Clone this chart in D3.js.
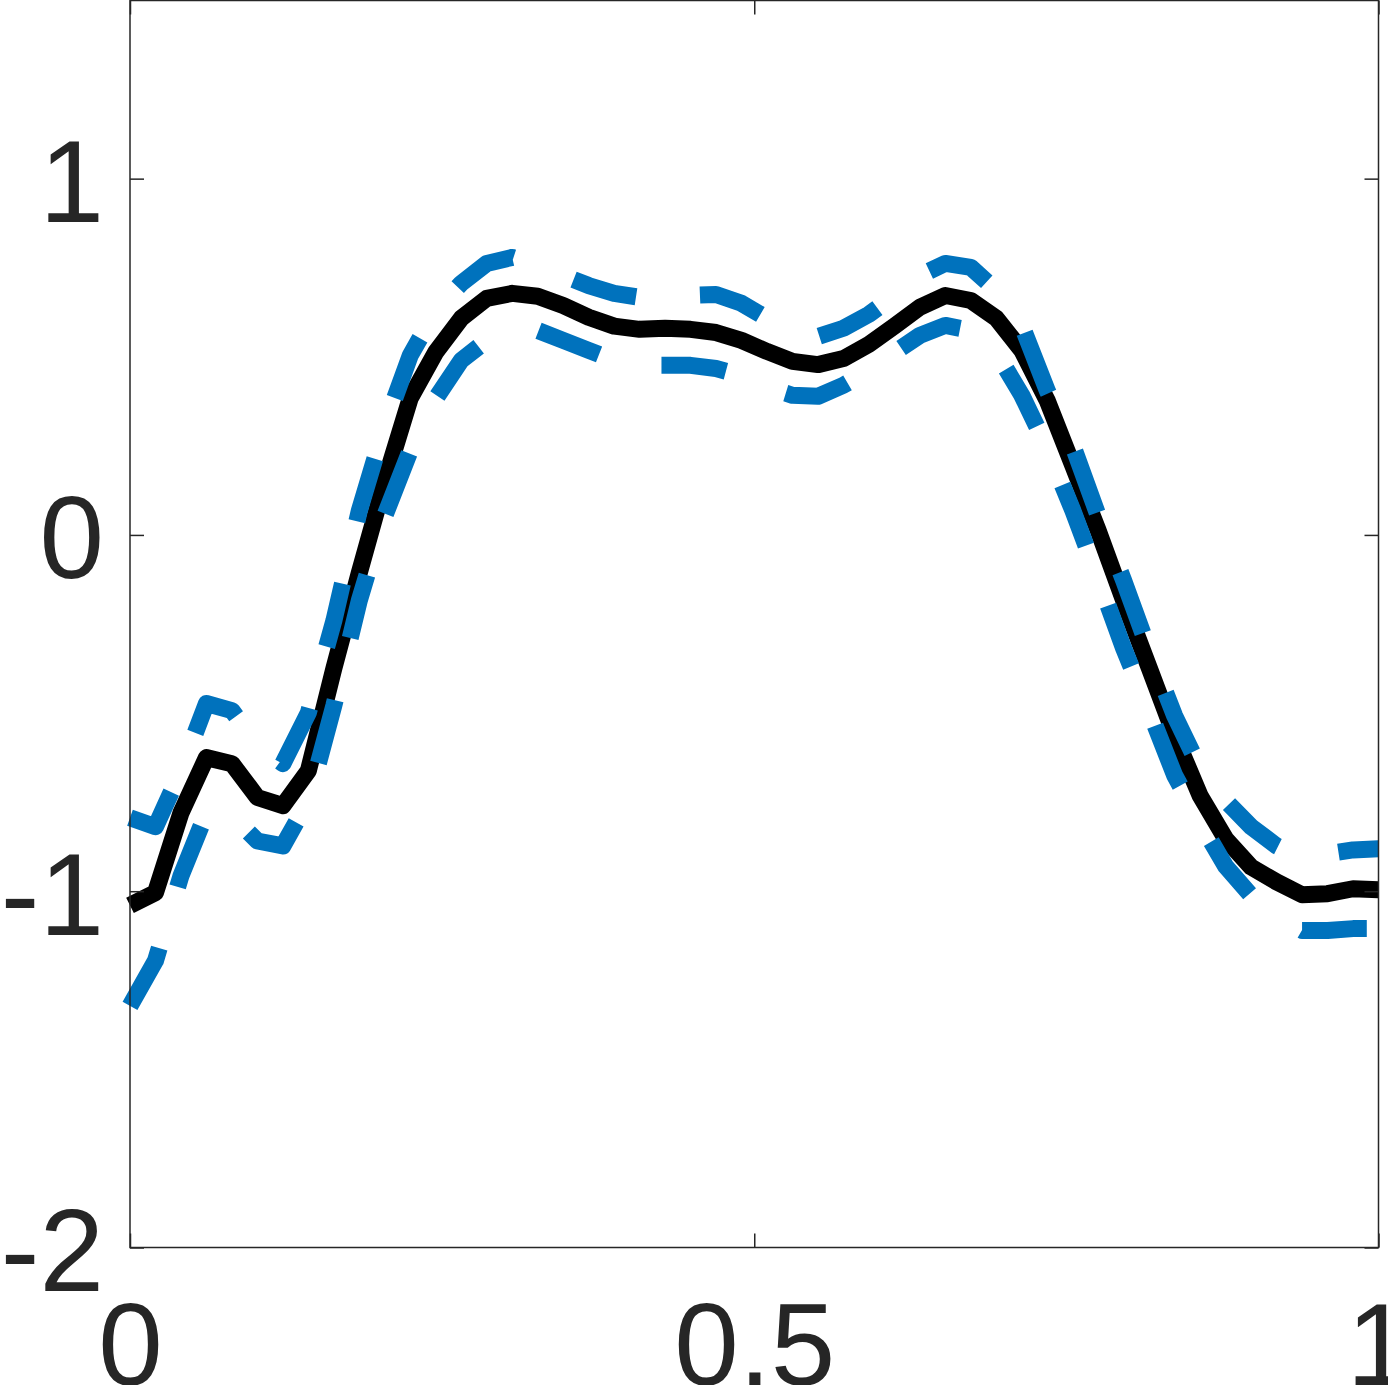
<!DOCTYPE html>
<html lang="en">
<head>
    <meta charset="UTF-8">
    <title>D3</title>
	<style>
		body { margin:0; background:#fff; }
		#CHART { display:block; }
		#CHART .tick text { font-family: "Liberation Sans", Arial, Helvetica, sans-serif; font-size:116px; fill:#262626; }
		#CHART .tick line { stroke:#262626; stroke-width:1.5px; }
	</style>
</head>
<body>
	<svg id="CHART" width="1388" height="1385"></svg>

    <script src="https://cdnjs.cloudflare.com/ajax/libs/d3/7.8.5/d3.min.js"></script>
    <script>
		/******** data ********/
		var X_TICKS = [0, 0.5, 1];
		var X_TICK_LABELS = ["0", "0.5", "1"];
		var Y_TICKS = [-2, -1, 0, 1];
		var Y_TICK_LABELS = ["-2", "-1", "0", "1"];

		// solid black curve
		var MEAN = [
			-1.040, -1.004, -0.780, -0.625, -0.642, -0.737, -0.760, -0.662, -0.375, -0.106,
			 0.150,  0.384,  0.513,  0.608,  0.664,  0.678,  0.670,  0.644,  0.611,  0.586,
			 0.577,  0.580,  0.577,  0.568,  0.546,  0.515,  0.487,  0.478,  0.495,  0.535,
			 0.586,  0.639,  0.672,  0.658,  0.608,  0.518,  0.377,  0.195,  0.012, -0.184,
			-0.373, -0.563, -0.732, -0.853, -0.932, -0.974, -1.010, -1.007, -0.993, -0.996
		];
		// blue dashed, upper
		var UPPER = [
			-0.794, -0.819, -0.662, -0.473, -0.493, -0.591, -0.642, -0.499, -0.241,  0.068,
			 0.307,  0.504,  0.630,  0.706,  0.762,  0.779,  0.756,  0.728,  0.700,  0.678,
			 0.667,  0.669,  0.672,  0.675,  0.650,  0.608,  0.568,  0.557,  0.580,  0.619,
			 0.672,  0.728,  0.762,  0.751,  0.686,  0.588,  0.405,  0.251,  0.054, -0.128,
			-0.325, -0.508, -0.656, -0.746, -0.819, -0.873, -0.909, -0.895, -0.884, -0.881
		];
		// blue dashed, lower
		var LOWER = [
			-1.322, -1.195, -0.957, -0.780, -0.788, -0.859, -0.873, -0.746, -0.479, -0.184,
			 0.054,  0.237,  0.383,  0.490,  0.546,  0.574,  0.574,  0.546,  0.518,  0.490,
			 0.476,  0.476,  0.476,  0.467,  0.448,  0.414,  0.392,  0.389,  0.420,  0.462,
			 0.512,  0.560,  0.588,  0.574,  0.512,  0.392,  0.243,  0.069, -0.122, -0.319,
			-0.493, -0.675, -0.807, -0.930, -1.012, -1.068, -1.110, -1.110, -1.105, -1.105
		];
		// sample grid on [0,1] (linspace)
		var XS = d3.range(MEAN.length).map(function(i){ return i / (MEAN.length - 1); });

		/******** chart ********/
		var box = { left:130, right:1378.5, top:0.5, bottom:1247.5 };
		var tickLen = 14;

		var svg = d3.select("#CHART");

		var x = d3.scaleLinear().domain([0, 1]).range([box.left, box.right]);
		var y = d3.scaleLinear().domain([-2, 1.5]).range([box.bottom, box.top]);

		var line = d3.line()
			.x(function(d){ return x(d[0]); })
			.y(function(d){ return y(d[1]); });

		function pairs(vals){
			return vals.map(function(v, i){ return [XS[i], v]; });
		}

		// black first, blue dashes drawn over it
		svg.append("path")
			.datum(pairs(MEAN))
			.attr("d", line)
			.attr("fill", "none")
			.attr("stroke", "#000")
			.attr("stroke-width", 17)
			.attr("stroke-linejoin", "round");

		[UPPER, LOWER].forEach(function(vals){
			svg.append("path")
				.datum(pairs(vals))
				.attr("d", line)
				.attr("fill", "none")
				.attr("stroke", "#0072BD")
				.attr("stroke-width", 17)
				.attr("stroke-linejoin", "round")
				.attr("stroke-linecap", "butt")
				.attr("stroke-dasharray", "65,64");
		});

		// axes, ticks pointing inward
		var bottomAxis = d3.axisBottom(x).tickValues(X_TICKS)
			.tickFormat(function(d, i){ return X_TICK_LABELS[i]; })
			.tickSize(-tickLen).tickSizeOuter(0);
		var gB = svg.append("g").attr("transform", "translate(0," + box.bottom + ")").call(bottomAxis);
		gB.selectAll("text").attr("y", 137).attr("dy", null);

		var leftAxis = d3.axisLeft(y).tickValues(Y_TICKS)
			.tickFormat(function(d, i){ return Y_TICK_LABELS[i]; })
			.tickSize(-tickLen).tickSizeOuter(0).tickPadding(26);
		var gL = svg.append("g").attr("transform", "translate(" + box.left + ",0)").call(leftAxis);
		gL.selectAll("text").attr("dy", "0.37em");

		svg.append("g").attr("transform", "translate(0," + box.top + ")")
			.call(d3.axisTop(x).tickValues(X_TICKS).tickFormat("").tickSize(-tickLen).tickSizeOuter(0));
		svg.append("g").attr("transform", "translate(" + box.right + ",0)")
			.call(d3.axisRight(y).tickValues(Y_TICKS).tickFormat("").tickSize(-tickLen).tickSizeOuter(0));

		svg.selectAll(".domain").remove();

		// axes box
		svg.append("rect")
			.attr("x", box.left).attr("y", box.top)
			.attr("width", box.right - box.left).attr("height", box.bottom - box.top)
			.attr("fill", "none")
			.attr("stroke", "#262626")
			.attr("stroke-width", 1.5);
	</script>
</body>
</html>
